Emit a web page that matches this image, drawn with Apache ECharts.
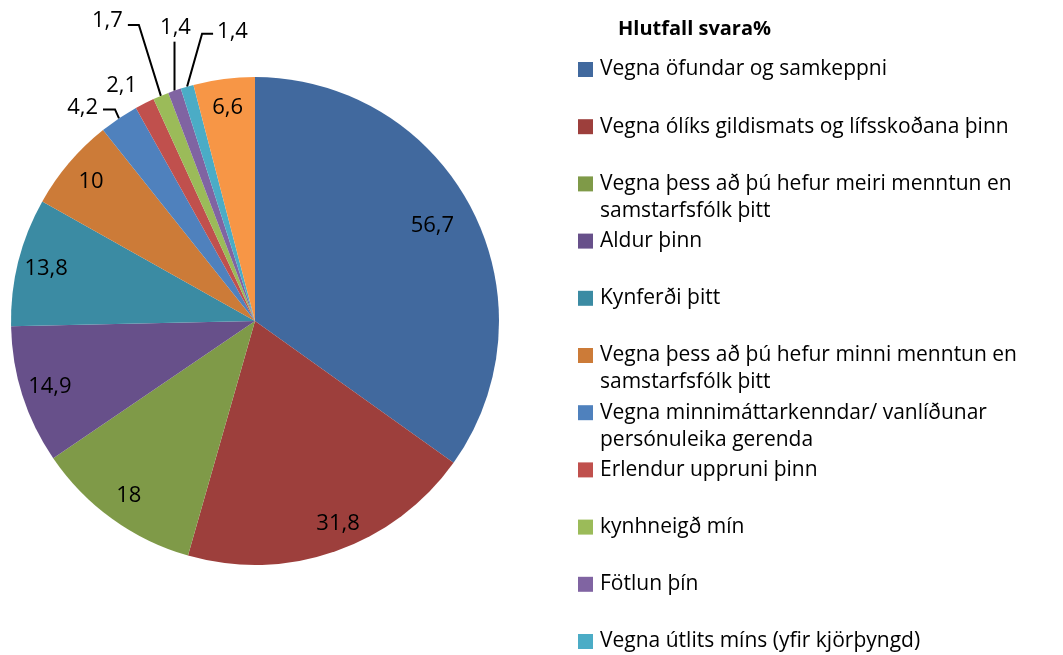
<!DOCTYPE html>
<html>
<head>
<meta charset="utf-8">
<script src="https://cdn.jsdelivr.net/npm/echarts@6/dist/echarts.min.js"></script>
<style>html,body{margin:0;padding:0;background:#fff;}#chart{width:1063px;height:655px;}</style>
</head>
<body>
<div id="chart"></div>
<script>
// ---- data ----
const categories = [
  'Vegna öfundar og samkeppni',
  'Vegna ólíks gildismats og lífsskoðana þinn',
  'Vegna þess að þú hefur meiri menntun en samstarfsfólk þitt',
  'Aldur þinn',
  'Kynferði þitt',
  'Vegna þess að þú hefur minni menntun en samstarfsfólk þitt',
  'Vegna minnimáttarkenndar/ vanlíðunar persónuleika gerenda',
  'Erlendur uppruni þinn',
  'kynhneigð mín',
  'Fötlun þín',
  'Vegna útlits míns (yfir kjörþyngd)',
  'Annað'
];
const values = [56.7, 31.8, 18, 14.9, 13.8, 10, 4.2, 2.1, 1.7, 1.4, 1.4, 6.6];
const legendNames = categories.slice(0, 11);
const legendTitle = 'Hlutfall svara%';

// ---- styles ----
const colors = ['#41699E', '#9D3F3C', '#7F9A48', '#67508A', '#3B8BA3', '#CC7B38',
                '#4F81BD', '#C0504D', '#9BBB59', '#8064A2', '#4BACC6', '#F79646'];
const FONT = 'Open Sans';
const FS = 22;      // pie labels
const LFS = 21;     // legend
const LH = 27;
const wrapBefore = ['samstarfsfólk', 'persónuleika'];
// outside-label leader geometry: [bendDx, bendDy, endDx, textDx, textDy, align, showLine]
const outsideLabels = {
  6: [-4, -9, -16, -5, -2, 'right', true],
  7: [0, 0, 0, -23, -18, 'center', false],
  8: [-22, -71, -33, -5, -4, 'right', true],
  9: [0, -49, 0, 1, -14, 'center', true],
  10: [15, -53, 26, 4, -2, 'left', true]
};
// small nudges of inside labels (Excel best-fit)
const insideNudge = { 0: [-14, 3], 1: [12, 0] };

const fmt = v => String(v).replace('.', ',');
const R = 244;
const center = [255, 321];
const legendX = 578, legendY0 = 69.5, legendStep = 57.2;

// wrap long names; pad with leading empty lines so the first line sits beside the marker
const wrapName = name => {
  let s = name;
  wrapBefore.forEach(w => { s = s.replace(' ' + w, '\n' + w); });
  const n = s.split('\n').length;
  return '\n'.repeat(n - 1) + s;
};

const mainData = categories.map((n, i) => {
  const o = outsideLabels[i];
  return {
    name: n, value: values[i],
    itemStyle: { color: colors[i] },
    label: { show: !!o },
    labelLine: { show: !!(o && o[6]) }
  };
});
const labelData = categories.map((n, i) => ({
  name: n, value: values[i],
  label: { show: !outsideLabels[i] }
}));

const legends = legendNames.map((n, i) => {
  const lines = wrapName(n).split('\n').length;
  const boxH = lines * LH;
  return {
    orient: 'vertical', left: legendX, top: legendY0 + i * legendStep - boxH / 2, padding: 0,
    itemWidth: 15, itemHeight: 15,
    data: [{ name: n, icon: 'rect' }],
    selectedMode: false,
    formatter: wrapName,
    textStyle: { fontFamily: FONT, fontSize: LFS, color: '#000', lineHeight: LH, padding: [0, 0, 0, 2] }
  };
});

const chart = echarts.init(document.getElementById('chart'), null, { renderer: 'canvas' });
chart.setOption({
  animation: false,
  backgroundColor: '#ffffff',
  textStyle: { fontFamily: FONT },
  title: {
    text: legendTitle, left: 613, top: 14,
    textStyle: { fontFamily: FONT, fontWeight: 'bold', fontSize: 20, color: '#000' }
  },
  legend: legends,
  series: [
    {
      type: 'pie', center: center, radius: R, startAngle: 90, clockwise: true,
      avoidLabelOverlap: false, silent: true,
      emphasis: { disabled: true },
      data: mainData,
      label: {
        position: 'outside', formatter: p => fmt(p.value),
        fontFamily: FONT, fontSize: FS, color: '#000'
      },
      labelLine: { lineStyle: { color: '#000', width: 2 }, length: 10, length2: 10 },
      labelLayout: p => {
        const o = outsideLabels[p.dataIndex];
        if (!o || !p.labelLinePoints) return {};
        const p0 = p.labelLinePoints[0];
        const b = [p0[0] + o[0], p0[1] + o[1]];
        const e = [p0[0] + o[2], p0[1] + o[1]];
        return {
          x: e[0] + o[3], y: b[1] + o[4],
          align: o[5], verticalAlign: 'middle',
          labelLinePoints: [p0, b, e]
        };
      }
    },
    {
      type: 'pie', center: center, radius: [R * 0.74, R], startAngle: 90, clockwise: true,
      silent: true, emphasis: { disabled: true },
      itemStyle: { color: 'rgba(0,0,0,0)' },
      data: labelData,
      label: {
        position: 'inside', formatter: p => fmt(p.value),
        fontFamily: FONT, fontSize: FS, color: '#000'
      },
      labelLine: { show: false },
      labelLayout: p => {
        const d = insideNudge[p.dataIndex];
        return d ? { dx: d[0], dy: d[1] } : {};
      }
    }
  ]
});
</script>
</body>
</html>
